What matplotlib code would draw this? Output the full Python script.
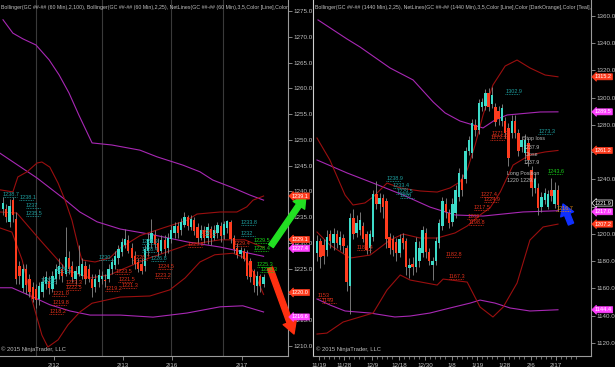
import matplotlib
matplotlib.use('Agg')
import matplotlib.pyplot as plt

plt.rcParams['font.family'] = ['Liberation Sans', 'DejaVu Sans']

# ---------------- left chart: GC 60 min ----------------
l_open = [1236.5, 1236.5, 1234.0, 1238.4, 1234.6, 1225.5, 1221.2, 1225.0, 1223.0, 1221.5,
          1221.0, 1219.2, 1220.5, 1222.0, 1222.7, 1221.0, 1223.0, 1224.0, 1225.0, 1224.0,
          1227.0, 1225.5, 1223.0, 1224.0, 1223.6, 1225.6, 1225.0, 1223.0, 1221.5, 1222.5,
          1223.0, 1222.8, 1223.0, 1225.0, 1225.8, 1227.0, 1228.2, 1229.5, 1230.5, 1229.0,
          1227.5, 1226.3, 1226.0, 1225.5, 1228.5, 1230.0, 1231.5, 1230.0, 1228.5, 1230.5,
          1229.0, 1230.8, 1232.0, 1233.3, 1232.5, 1233.5, 1235.0, 1233.0, 1234.5, 1233.0,
          1231.0, 1232.5, 1231.0, 1232.7, 1231.0, 1232.0, 1233.3, 1231.5, 1232.8, 1234.0,
          1231.0, 1229.0, 1227.8, 1228.5, 1228.0, 1226.5, 1224.5, 1221.7, 1223.5, 1222.0]
l_high = [1239.0, 1237.5, 1238.5, 1239.0, 1236.0, 1226.5, 1226.0, 1226.0, 1224.0, 1222.5,
          1222.0, 1222.5, 1223.5, 1224.5, 1223.5, 1224.5, 1226.0, 1227.0, 1226.0, 1233.0,
          1228.5, 1226.5, 1225.5, 1229.5, 1227.0, 1226.5, 1226.0, 1224.0, 1224.0, 1225.0,
          1224.5, 1224.0, 1226.0, 1227.0, 1228.5, 1229.5, 1231.0, 1232.7, 1231.5, 1230.0,
          1228.5, 1227.0, 1227.0, 1229.5, 1232.0, 1234.6, 1232.5, 1231.0, 1231.5, 1231.5,
          1232.0, 1233.5, 1234.0, 1234.0, 1234.8, 1236.0, 1235.5, 1235.5, 1235.0, 1233.8,
          1233.5, 1233.2, 1233.8, 1233.3, 1233.5, 1234.0, 1234.0, 1234.3, 1234.5, 1234.5,
          1231.5, 1230.0, 1229.2, 1229.0, 1228.6, 1227.0, 1225.0, 1224.5, 1224.0, 1224.0]
l_low = [1235.5, 1234.0, 1233.0, 1234.0, 1222.0, 1222.0, 1220.5, 1220.0, 1219.5, 1218.5,
         1217.3, 1218.0, 1219.5, 1221.0, 1220.0, 1220.5, 1222.0, 1223.0, 1222.5, 1223.5,
         1224.0, 1222.5, 1222.0, 1223.5, 1223.0, 1222.0, 1222.5, 1219.5, 1220.5, 1221.5,
         1222.0, 1221.5, 1222.5, 1224.0, 1225.0, 1226.0, 1227.5, 1229.0, 1228.0, 1226.0,
         1225.0, 1224.4, 1224.0, 1224.5, 1227.5, 1229.0, 1229.0, 1227.5, 1228.0, 1227.5,
         1228.0, 1230.0, 1231.0, 1231.0, 1231.5, 1233.0, 1232.5, 1232.5, 1231.5, 1230.0,
         1230.5, 1230.0, 1229.8, 1229.6, 1230.5, 1231.0, 1230.2, 1230.8, 1232.0, 1230.0,
         1228.0, 1227.0, 1227.0, 1226.5, 1223.0, 1222.5, 1220.5, 1219.8, 1220.5, 1221.5]
l_close = [1237.7, 1235.0, 1237.2, 1235.5, 1223.0, 1223.6, 1225.0, 1221.8, 1220.5, 1219.2,
           1219.0, 1221.6, 1222.5, 1223.3, 1221.3, 1223.5, 1225.0, 1225.5, 1223.5, 1227.3,
           1225.0, 1223.3, 1224.5, 1225.6, 1226.0, 1223.0, 1223.0, 1221.2, 1223.0, 1223.8,
           1223.5, 1222.6, 1225.0, 1226.3, 1227.5, 1228.8, 1230.2, 1230.8, 1228.5, 1227.0,
           1226.0, 1225.0, 1224.5, 1228.8, 1230.8, 1232.0, 1229.8, 1228.3, 1230.5, 1228.8,
           1231.0, 1232.5, 1233.3, 1232.0, 1234.0, 1235.0, 1233.2, 1234.7, 1232.4, 1231.0,
           1232.5, 1231.0, 1233.0, 1231.0, 1232.5, 1233.4, 1231.4, 1233.6, 1234.2, 1230.8,
           1228.8, 1227.7, 1228.6, 1226.9, 1223.6, 1223.3, 1221.8, 1223.5, 1221.7, 1223.3]

# bands, read at bar positions
l_bb100_up_x = [0, 3, 6, 10, 14, 17, 20, 23, 27, 33, 41.5, 46.7, 54.5, 59.7, 63.6, 69.7, 74.8, 79]
l_bb100_up = [1273.3, 1270.7, 1269.6, 1268.4, 1265.5, 1262.6, 1259.1, 1254.8, 1249.4, 1249.0,
              1248.0, 1246.7, 1245.1, 1243.8, 1242.2, 1240.7, 1239.3, 1238.3]
l_bb100_mid_x = [-0.9, 10.3, 18.2, 23.3, 28.5, 35.5, 44.5, 55.8, 65.8, 79]
l_bb100_mid = [1247.4, 1242.6, 1238.7, 1236.0, 1234.1, 1232.7, 1231.7, 1230.2, 1229.2, 1227.4]
l_bb100_lo_x = [-0.9, 2.7, 9.1, 14.2, 20.3, 26.4, 35.5, 45.5, 55.8, 65.8, 72.7, 79]
l_bb100_lo = [1221.3, 1221.3, 1219.5, 1218.0, 1216.8, 1216.0, 1216.0, 1215.6, 1216.4, 1217.6, 1217.8, 1216.6]

l_bb25_up_x = [-0.9, 3.0, 4.5, 7.3, 10.3, 11.8, 14.2, 16.7, 18.8, 20.9, 22.7, 23.9, 27.9, 32.4,
               35.5, 41.5, 48.5, 55.8, 58.8, 65.8, 70.9, 73.9, 75.8, 79]
l_bb25_up = [1240.3, 1239.9, 1242.8, 1243.8, 1245.5, 1245.7, 1244.7, 1241.6, 1238.3, 1234.4,
             1229.6, 1226.7, 1226.3, 1227.1, 1229.0, 1231.4, 1232.9, 1234.4, 1235.6, 1236.0,
             1236.0, 1237.0, 1238.3, 1239.1]
l_bb25_mid_x = [-0.9, 4.2, 11.2, 19.4, 26.4, 32.4, 35.5, 44.5, 55.8, 65.8, 73.3, 79]
l_bb25_mid = [1236.0, 1235.8, 1230.6, 1224.7, 1223.2, 1223.8, 1224.7, 1227.1, 1229.6, 1230.6, 1230.6, 1229.1]
l_bb25_lo_x = [-0.9, 2.7, 5.8, 8.8, 11.8, 13.6, 16.7, 19.7, 23.3, 27.0, 35.5, 44.5, 50.6, 55.2,
               59.7, 64.2, 69.7, 73.3, 76.4, 79]
l_bb25_lo = [1232.9, 1232.1, 1226.7, 1218.9, 1212.1, 1209.8, 1211.2, 1214.1, 1216.6, 1218.3,
             1219.5, 1219.7, 1220.9, 1223.2, 1226.3, 1227.7, 1228.0, 1227.1, 1223.8, 1220.0]

l_sessions = [10, 30, 50.9, 66.7]
l_tick_pos = [15.5, 36.4, 51.2, 72.4]
l_tick_lab = ['2/12', '2/13', '2/16', '2/17']
l_price_ticks = list(range(1210, 1280, 5))
l_hidden_ticks = [1220]   # covered by a price box in the original

# net line labels: bar, level, text
l_teal = [(0, 1239.0, '1238.7'), (5, 1238.3, '1238.1'), (7, 1236.8, '1237'), (7, 1235.2, '1235.5'),
          (29, 1226.7, '1230'), (16, 1224.4, '1226.5'), (11.5, 1222.2, '1223.5'),
          (42, 1229.7, '1229.9'), (42, 1228.3, '1228.4'), (44.8, 1226.4, '1226.8'),
          (72, 1233.5, '1233.8'), (72, 1231.4, '1232')]
l_red = [(15, 1219.7, '1221.0'), (15, 1218.0, '1219.8'), (14, 1216.3, '1218.2'),
         (31, 1220.6, '1219.2'), (19, 1221.9, '1223.3'), (19, 1220.8, '1222.5'),
         (34, 1224.0, '1223.5'), (35, 1222.4, '1221.5'), (39.5, 1226.7, '1226.7'),
         (47, 1224.9, '1224.5'), (46, 1223.2, '1223.2'), (36, 1221.3, '1221.3'),
         (60, 1231.6, '1229.1'), (56, 1229.2, '1229.8'), (70, 1229.4, '1229.4')]
l_green = [(76, 1229.9, '1229.5'), (76, 1228.4, '1228.4'), (77, 1225.3, '1225.3'), (78, 1224.3, '1224.3')]

# axis price boxes: value, colour, pixel nudge (positive = up) so the boxes do not collide
l_boxes = [(1239.1, '#ff3c1e', 0), (1229.1, '#ff3c1e', 8), (1227.4, '#ff40ff', 8),
           (1220.0, '#ff3c1e', 2), (1216.6, '#ff40ff', -5)]

# ---------------- right chart: GC daily ----------------
r_open = [1186, 1195, 1192, 1188, 1200, 1193, 1200, 1192, 1197, 1190,
          1162, 1212, 1201, 1203, 1206, 1200, 1190, 1198, 1229, 1222,
          1226, 1224, 1198, 1196, 1194, 1186, 1197, 1195, 1175, 1178,
          1176, 1180, 1186, 1201, 1187, 1177, 1180, 1193, 1206, 1222,
          1215, 1209, 1215, 1227, 1240, 1240, 1261, 1259, 1280, 1276,
          1293, 1294, 1303, 1295, 1293, 1290, 1283, 1283, 1278, 1274,
          1283, 1274, 1264, 1259, 1267, 1247, 1234, 1234, 1220, 1225,
          1220, 1232, 1222, 1232]
r_high = [1199, 1197, 1196, 1203, 1203, 1204, 1203, 1202, 1200, 1192,
          1215, 1218, 1214, 1216, 1209, 1202, 1203, 1232, 1239, 1230,
          1229, 1226, 1201, 1199, 1197, 1200, 1201, 1197, 1182, 1183,
          1198, 1195, 1206, 1204, 1190, 1183, 1198, 1211, 1227, 1226,
          1218, 1226, 1236, 1248, 1244, 1264, 1272, 1284, 1284, 1299,
          1300, 1306, 1307, 1308, 1296, 1294, 1295, 1286, 1281, 1287,
          1287, 1277, 1272, 1273, 1270, 1250, 1245, 1237, 1231, 1234,
          1232, 1241, 1238, 1236]
r_low = [1180, 1175, 1178, 1184, 1190, 1188, 1190, 1188, 1186, 1158,
         1141, 1196, 1198, 1199, 1194, 1185, 1186, 1195, 1218, 1216,
         1212, 1190, 1185, 1184, 1180, 1183, 1189, 1170, 1168, 1170,
         1172, 1176, 1183, 1182, 1177, 1166, 1177, 1190, 1203, 1212,
         1204, 1206, 1212, 1224, 1228, 1237, 1258, 1256, 1272, 1273,
         1290, 1291, 1290, 1292, 1279, 1280, 1279, 1270, 1250, 1270,
         1270, 1257, 1260, 1255, 1250, 1228, 1230, 1214, 1216, 1222,
         1218, 1224, 1219, 1217]
r_close = [1195, 1183, 1184, 1198, 1195, 1200, 1193, 1198, 1191, 1165,
           1212, 1200, 1208, 1210, 1196, 1188, 1200, 1229, 1222, 1226,
           1220, 1196, 1190, 1188, 1186, 1196, 1193, 1176, 1177, 1176,
           1194, 1190, 1203, 1187, 1180, 1180, 1195, 1208, 1224, 1216,
           1208, 1222, 1232, 1245, 1232, 1261, 1269, 1281, 1276, 1296,
           1297, 1303, 1293, 1302, 1282, 1284, 1292, 1274, 1256, 1283,
           1274, 1261, 1269, 1269, 1254, 1234, 1240, 1219, 1227, 1230,
           1229, 1228, 1232, 1221]

r_mag_up_x = [0.3, 9.1, 13.0, 22.1, 29.1, 35.2, 38.8, 43.3, 50.3, 53.9, 57.6, 67.6, 73.0]
r_mag_up = [1356.9, 1342.9, 1337.1, 1321.7, 1312.9, 1296.7, 1288.7, 1282.8, 1277.7, 1283.5, 1287.2, 1289.4, 1289.5]
r_mag_mid_x = [0, 9.1, 17.0, 26.1, 34.2, 41.8, 50.3, 62.4, 73.0]
r_mag_mid = [1254.2, 1244.7, 1237.3, 1228.5, 1219.7, 1213.9, 1213.1, 1216.1, 1217.0]
r_mag_lo_x = [0, 3.9, 8.5, 16.1, 23.6, 28.2, 34.2, 40.3, 46.4, 49.4, 53.9, 58.5, 64.5, 73.0]
r_mag_lo = [1152.3, 1147.9, 1143.5, 1142.0, 1139.1, 1139.8, 1142.0, 1145.7, 1149.3, 1151.5,
            1149.3, 1145.7, 1143.5, 1144.4]

r_bb_up_x = [0, 3.9, 8.5, 10.9, 14.5, 17.0, 21.2, 25.2, 31.2, 36.4, 40.3, 43.3, 45.5, 47.9,
             50.3, 53.3, 57.0, 60.6, 64.5, 69.1, 73.0]
r_bb_up = [1270.3, 1254.2, 1228.5, 1221.2, 1222.7, 1227.1, 1237.3, 1233.7, 1231.5, 1230.7,
           1233.7, 1238.1, 1246.9, 1265.2, 1287.2, 1309.2, 1323.1, 1327.5, 1321.7, 1316.5, 1315.2]
r_bb_mid_x = [0, 3.9, 10.0, 16.1, 22.1, 26.1, 31.2, 36.4, 41.8, 45.5, 49.4, 52.4, 55.5, 59.4,
              64.5, 69.1, 73.0]
r_bb_mid = [1201.4, 1191.9, 1182.3, 1184.5, 1195.5, 1199.9, 1197.0, 1197.0, 1200.7, 1205.8,
            1213.9, 1219.0, 1230.7, 1250.5, 1257.9, 1260.1, 1261.2]
r_bb_lo_x = [0, 3.0, 7.9, 13.0, 17.0, 21.2, 25.2, 28.2, 36.4, 38.2, 45.5, 49.4, 53.3, 56.4,
             60.6, 64.5, 68.5, 73.0]
r_bb_lo = [1126.6, 1127.3, 1135.4, 1139.1, 1142.0, 1158.9, 1169.9, 1166.2, 1162.5, 1166.9,
           1164.7, 1146.4, 1139.1, 1146.4, 1164.0, 1195.5, 1205.1, 1207.2]

r_tick_pos = [0.6, 8.2, 16.7, 24.8, 32.7, 40.9, 48.5, 56.7, 64.8, 72.4]
r_tick_lab = ['11/19', '11/28', '12/9', '12/18', '12/30', '1/8', '1/19', '1/28', '2/6', '2/17']
r_price_ticks = list(range(1120, 1361, 20))
r_hidden_ticks = [1260, 1220]

r_teal = [(21, 1238.9, '1238.9'), (23, 1233.4, '1233.4'), (24, 1229.5, '1229.5'), (25, 1226.0, '1226'),
          (57, 1302.9, '1302.9'), (67, 1273.3, '1273.3')]
r_red = [(12, 1188.4, '1188.4'), (39, 1182.8, '1182.8'), (40, 1167.3, '1167.3'),
         (0.3, 1153.0, '1153'), (1.5, 1149.0, '1149'), (47.5, 1217.5, '1217.5'),
         (49.5, 1227.4, '1227.4'), (50.5, 1223.6, '1224.9'), (45.5, 1211.0, '1209'),
         (46, 1206.5, '1198.8'), (53, 1272.1, '1271.3'), (52.5, 1269.0, '1272.1')]
r_green = [(70, 1243.6, '1243.6')]
r_orange = [(72.5, 1216.7, '1216.7')]

r_boxes = [(1315.2, '#ff3c1e', 0), (1289.5, '#ff40ff', 0), (1261.2, '#ff3c1e', 0),
           (1221.9, 'black', 1), (1217.0, '#ff40ff', -1), (1207.2, '#ff3c1e', 0),
           (1144.4, '#ff40ff', 0)]

UP = '#3ddbc9'
DOWN = '#ff3c1e'
MAG = '#a828b4'
DRED = '#9a0f0f'
GREY = '#c0c0c0'

W, H = 615, 367
fig = plt.figure(figsize=(W / 100, H / 100), dpi=100, facecolor='black')


def candles(ax, o, h, l, c, width):
    for i in range(len(o)):
        col = UP if c[i] >= o[i] else DOWN
        ax.vlines(i, l[i], h[i], color='#8a8a8a', lw=0.6, zorder=3)
        body = abs(c[i] - o[i])
        ax.bar(i, max(body, 0.15), bottom=min(o[i], c[i]), width=width, color=col, lw=0, zorder=4)


def levels(ax, items, color, span=4.3):
    for x, y, t in items:
        ax.hlines(y, x, x + span, colors=color, lw=0.6, linestyles=(0, (1, 1)), zorder=5)
        ax.text(x, y, t, color=color, fontsize=4.0, va='bottom', ha='left', zorder=6)


def boxes(ax, items):
    for v, col, dy in items:
        ec = 'white' if col == 'black' else col
        ax.annotate('%.1f' % v, xy=(1.0, v), xycoords=ax.get_yaxis_transform(),
                    xytext=(4, dy), textcoords='offset pixels', color='white',
                    fontsize=4.0, va='center', ha='left', zorder=10, annotation_clip=False,
                    bbox=dict(boxstyle='larrow,pad=0.1', fc=col, ec=ec, lw=0.5))


def style(ax, ticks, hidden):
    ax.set_facecolor('black')
    for s in ['top', 'left']:
        ax.spines[s].set_visible(False)
    for s in ['right', 'bottom']:
        ax.spines[s].set_color('#9a9a9a')
        ax.spines[s].set_linewidth(0.8)
    ax.yaxis.tick_right()
    ax.set_yticks(ticks)
    ax.set_yticklabels(['' if t in hidden else '%.1f' % t for t in ticks])
    ax.tick_params(axis='y', colors='#9a9a9a', labelcolor=GREY, labelsize=4.5, length=3, width=0.6, pad=1)
    ax.tick_params(axis='x', colors='#9a9a9a', labelcolor=GREY, labelsize=4.5, length=3, width=0.6, pad=2)


# left chart
ax1 = fig.add_axes([0, 11 / H, 288 / W, 356 / H])
ax1.set_xlim(-0.91, 86.4)
ax1.set_ylim(1208.06, 1277.13)
style(ax1, l_price_ticks, l_hidden_ticks)
for s in l_sessions:
    ax1.axvline(s, color='#3a3a3a', lw=0.8, zorder=1)
ax1.plot(l_bb100_up_x, l_bb100_up, color=MAG, lw=0.8, zorder=2)
ax1.plot(l_bb100_mid_x, l_bb100_mid, color=MAG, lw=0.8, zorder=2)
ax1.plot(l_bb100_lo_x, l_bb100_lo, color=MAG, lw=0.8, zorder=2)
ax1.plot(l_bb25_up_x, l_bb25_up, color=DRED, lw=0.8, zorder=2)
ax1.plot(l_bb25_mid_x, l_bb25_mid, color=DRED, lw=0.8, zorder=2)
ax1.plot(l_bb25_lo_x, l_bb25_lo, color=DRED, lw=0.8, zorder=2)
candles(ax1, l_open, l_high, l_low, l_close, 0.68)
levels(ax1, l_teal, '#1fa0a0')
levels(ax1, l_red, '#e0301a')
levels(ax1, l_green, '#18d018')
ax1.set_xticks(l_tick_pos)
ax1.set_xticklabels(l_tick_lab)
boxes(ax1, l_boxes)
ax1.text(0.003, 0.987, 'Bollinger(GC ##-## (60 Min),2,100), Bollinger(GC ##-## (60 Min),2,25), '
         'NetLines(GC ##-## (60 Min),3,5,Color [Line],Color [Da',
         transform=ax1.transAxes, color=GREY, fontsize=3.75, va='top', ha='left', clip_on=True)
ax1.text(0.005, 0.012, '\u00a9 2015 NinjaTrader, LLC', transform=ax1.transAxes, color=GREY,
         fontsize=4.2, va='bottom', ha='left')

# right chart
ax2 = fig.add_axes([313 / W, 11 / H, 278 / W, 356 / H])
ax2.set_xlim(-1.21, 83.0)
ax2.set_ylim(1110.5, 1371.5)
style(ax2, r_price_ticks, r_hidden_ticks)
ax2.spines['left'].set_visible(True)
ax2.spines['left'].set_color('#d0d0d0')
ax2.spines['left'].set_linewidth(0.8)
ax2.plot(r_mag_up_x, r_mag_up, color=MAG, lw=0.8, zorder=2)
ax2.plot(r_mag_mid_x, r_mag_mid, color=MAG, lw=0.8, zorder=2)
ax2.plot(r_mag_lo_x, r_mag_lo, color=MAG, lw=0.8, zorder=2)
ax2.plot(r_bb_up_x, r_bb_up, color=DRED, lw=0.8, zorder=2)
ax2.plot(r_bb_mid_x, r_bb_mid, color=DRED, lw=0.8, zorder=2)
ax2.plot(r_bb_lo_x, r_bb_lo, color=DRED, lw=0.8, zorder=2)
candles(ax2, r_open, r_high, r_low, r_close, 0.75)
levels(ax2, r_teal, '#1fa0a0')
levels(ax2, r_red, '#e0301a')
levels(ax2, r_green, '#18d018')
levels(ax2, r_orange, '#e08a10')
ax2.text(62.5, 1268.5, 'Stop loss', color='#bbbbbb', fontsize=3.8, zorder=6)
ax2.text(62.5, 1262.5, '1237.9', color='#bbbbbb', fontsize=3.8, zorder=6)
ax2.text(63.0, 1257.0, 'Close', color='#bbbbbb', fontsize=3.8, zorder=6)
ax2.text(62.5, 1251.5, '1237.9', color='#bbbbbb', fontsize=3.8, zorder=6)
ax2.text(57.5, 1243.5, 'Long Position', color='#bbbbbb', fontsize=3.8, zorder=6)
ax2.text(57.5, 1238.0, '1220 1229.7', color='#bbbbbb', fontsize=3.8, zorder=6)
ax2.set_xticks(r_tick_pos)
ax2.set_xticklabels(r_tick_lab)
ax2.set_xticks([p + k * 1.5 for p in r_tick_pos for k in range(5)], minor=True)
ax2.tick_params(axis='x', which='minor', colors='#9a9a9a', length=2, width=0.5)
boxes(ax2, r_boxes)
ax2.text(0.006, 0.987, 'Bollinger(GC ##-## (1440 Min),2,25), NetLines(GC ##-## (1440 Min),3,5,'
         'Color [Line],Color [DarkOrange],Color [Teal],Colo',
         transform=ax2.transAxes, color=GREY, fontsize=3.75, va='top', ha='left', clip_on=True)
ax2.text(0.01, 0.012, '\u00a9 2015 NinjaTrader, LLC', transform=ax2.transAxes, color=GREY,
         fontsize=4.2, va='bottom', ha='left')

# hand drawn arrows
arr = dict(xycoords='figure pixels', textcoords='figure pixels')
ax1.annotate('', xy=(306, H - 195), xytext=(271, H - 246), **arr,
             arrowprops=dict(fc='#22e022', ec='#22e022', width=4, headwidth=10, headlength=9))
ax1.annotate('', xy=(294, H - 334), xytext=(270, H - 268), **arr,
             arrowprops=dict(fc='#ff3010', ec='#ff3010', width=4, headwidth=10, headlength=9))
ax2.annotate('', xy=(563, H - 204), xytext=(571, H - 224), **arr,
             arrowprops=dict(fc='#1030ff', ec='#1030ff', width=4, headwidth=10, headlength=8))

fig.savefig('out.png', dpi=100, facecolor='black')
